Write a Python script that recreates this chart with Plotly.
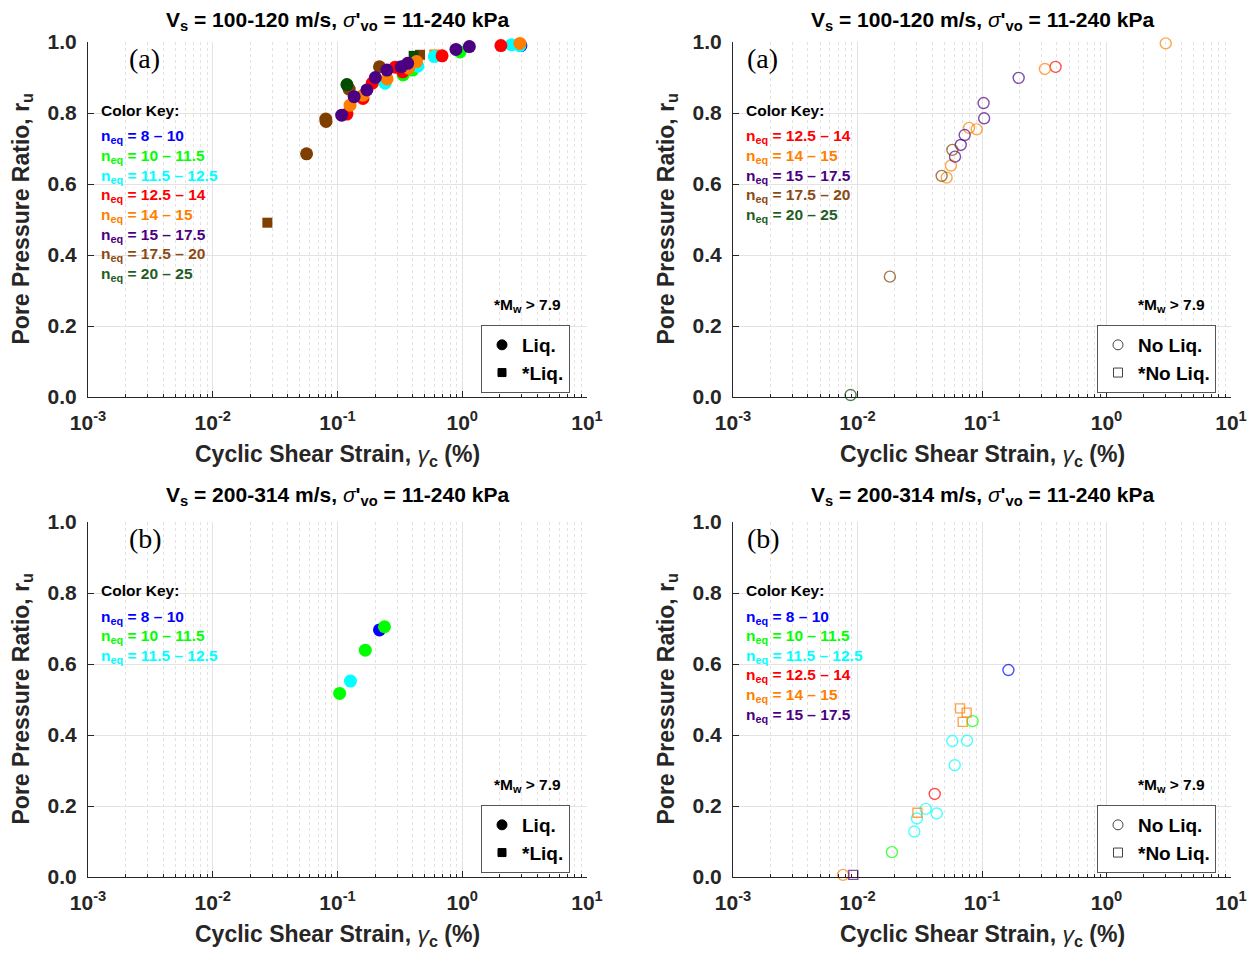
import plotly.graph_objects as go

# ---------------- colours for n_eq groups ----------------
C_BLUE = "#0000FF"
C_GREEN = "#00FF00"
C_CYAN = "#00FFFF"
C_RED = "#FF0000"
C_ORANGE = "#FF7F00"
C_PURPLE = "#4B0082"
C_BROWN = "#7F3F00"
C_DKGREEN = "#004D00"

# ---------------- data: panel (a) liquefied (top-left) ----------------
a_liq_blue_x = [2.95]
a_liq_blue_y = [0.99]
a_liq_green_x = [0.336, 0.40, 0.96]
a_liq_green_y = [0.907, 0.921, 0.972]
a_liq_cyan_x = [0.241, 0.44, 0.597, 2.48, 2.9]
a_liq_cyan_y = [0.884, 0.932, 0.959, 0.992, 0.99]
a_liq_red_x = [0.119, 0.16, 0.19, 0.29, 0.333, 0.689, 2.04]
a_liq_red_y = [0.797, 0.841, 0.884, 0.929, 0.916, 0.961, 0.99]
a_liq_orange_x = [0.126, 0.16, 0.25, 0.372, 0.43, 2.9]
a_liq_orange_y = [0.822, 0.85, 0.896, 0.926, 0.945, 0.996]
a_liq_purple_x = [0.108, 0.136, 0.172, 0.201, 0.249, 0.324, 0.365, 0.89, 1.14]
a_liq_purple_y = [0.794, 0.846, 0.865, 0.90, 0.921, 0.930, 0.940, 0.979, 0.987]
a_liq_brown_x = [0.0565, 0.0805, 0.081, 0.124, 0.217]
a_liq_brown_y = [0.685, 0.783, 0.776, 0.867, 0.930]
a_liq_dkgreen_x = [0.119]
a_liq_dkgreen_y = [0.88]
a_sliq_brown_x = [0.0274, 0.459]
a_sliq_brown_y = [0.491, 0.964]
a_sliq_dkgreen_x = [0.408]
a_sliq_dkgreen_y = [0.961]
a_sliq_orange_x = [0.597]
a_sliq_orange_y = [0.965]

# ---------------- data: panel (a) no liquefaction (top-right) ----------------
a_noliq_red_x = [0.39]
a_noliq_red_y = [0.93]
a_noliq_orange_x = [2.99, 0.32, 0.0787, 0.0906, 0.0563, 0.052]
a_noliq_orange_y = [0.996, 0.924, 0.758, 0.754, 0.652, 0.618]
a_noliq_purple_x = [0.197, 0.103, 0.104, 0.0726, 0.0675, 0.0607]
a_noliq_purple_y = [0.899, 0.828, 0.785, 0.738, 0.710, 0.677]
a_noliq_brown_x = [0.0578, 0.0474, 0.0182]
a_noliq_brown_y = [0.696, 0.623, 0.339]
a_noliq_dkgreen_x = [0.0088]
a_noliq_dkgreen_y = [0.0056]

# ---------------- data: panel (b) liquefied (bottom-left) ----------------
b_liq_blue_x = [0.217]
b_liq_blue_y = [0.696]
b_liq_green_x = [0.104, 0.167, 0.238]
b_liq_green_y = [0.517, 0.639, 0.705]
b_liq_cyan_x = [0.127]
b_liq_cyan_y = [0.552]

# ---------------- data: panel (b) no liquefaction (bottom-right) ----------------
b_noliq_blue_x = [0.163]
b_noliq_blue_y = [0.583]
b_noliq_green_x = [0.084, 0.0189]
b_noliq_green_y = [0.439, 0.07]
b_noliq_cyan_x = [0.0578, 0.0758, 0.0604, 0.0353, 0.030, 0.0433, 0.0286]
b_noliq_cyan_y = [0.383, 0.384, 0.315, 0.192, 0.165, 0.179, 0.128]
b_noliq_red_x = [0.0417]
b_noliq_red_y = [0.234]
b_noliq_orange_x = [0.00766]
b_noliq_orange_y = [0.006]
b_snoliq_orange_x = [0.0666, 0.0753, 0.070, 0.0303]
b_snoliq_orange_y = [0.475, 0.463, 0.437, 0.181]
b_snoliq_purple_x = [0.00925]
b_snoliq_purple_y = [0.006]

# ---------------- labels ----------------
x_tickvals = [0.001, 0.01, 0.1, 1, 10]
x_ticktext = ["10<sup>-3</sup>", "10<sup>-2</sup>", "10<sup>-1</sup>", "10<sup>0</sup>", "10<sup>1</sup>"]
y_tickvals = [0.0, 0.2, 0.4, 0.6, 0.8, 1.0]
y_ticktext = ["0.0", "0.2", "0.4", "0.6", "0.8", "1.0"]

key_all = [
    ("8 – 10", C_BLUE), ("10 – 11.5", C_GREEN), ("11.5 – 12.5", C_CYAN),
    ("12.5 – 14", C_RED), ("14 – 15", C_ORANGE), ("15 – 17.5", C_PURPLE),
    ("17.5 – 20", "#8B4A12"), ("20 – 25", "#1E5E1E"),
]
key_tl = key_all
key_tr = key_all[3:]
key_bl = key_all[:3]
key_br = key_all[:6]

title_top = "V<sub>s</sub> = 100-120 m/s, <i style='font-weight:normal'>σ</i>'<sub>vo</sub> = 11-240 kPa"
title_bot = "V<sub>s</sub> = 200-314 m/s, <i style='font-weight:normal'>σ</i>'<sub>vo</sub> = 11-240 kPa"
x_title = "Cyclic Shear Strain, <i style='font-weight:normal'>γ</i><sub>c</sub> (%)"
y_title = "Pore Pressure Ratio, r<sub>u</sub>"

# page body has an 8px margin: figure placed at (8, 8)
OFF = 8
W, H = 1248, 945
FONT = "Liberation Sans"
INK = "#262626"

def px(x):
    return (x - OFF) / W

def py(y):
    return 1 - (y - OFF) / H

# panel pixel boxes in screenshot coordinates (left, right, top, bottom)
panels = {
    1: (88, 587, 42, 397),
    2: (733, 1231, 42, 397),
    3: (88, 587, 522, 877),
    4: (733, 1231, 522, 877),
}

fig = go.Figure()

def add_pts(n, xs, ys, color, symbol, size, open_=False):
    ax = "" if n == 1 else str(n)
    if open_:
        marker = dict(symbol=symbol + "-open", size=size, color=color, opacity=0.7,
                      line=dict(width=1.4, color=color))
    else:
        marker = dict(symbol=symbol, size=size, color=color, line=dict(width=0))
    fig.add_trace(go.Scatter(x=xs, y=ys, mode="markers", marker=marker,
                             xaxis="x" + ax, yaxis="y" + ax, showlegend=False,
                             cliponaxis=False, hoverinfo="x+y"))

# panel 1
add_pts(1, a_liq_brown_x, a_liq_brown_y, C_BROWN, "circle", 13)
add_pts(1, a_liq_dkgreen_x, a_liq_dkgreen_y, C_DKGREEN, "circle", 13)
add_pts(1, a_sliq_brown_x, a_sliq_brown_y, C_BROWN, "square", 10)
add_pts(1, a_sliq_dkgreen_x, a_sliq_dkgreen_y, C_DKGREEN, "square", 10)
add_pts(1, a_sliq_orange_x, a_sliq_orange_y, C_ORANGE, "square", 10)
add_pts(1, a_liq_blue_x, a_liq_blue_y, C_BLUE, "circle", 13)
add_pts(1, a_liq_green_x, a_liq_green_y, C_GREEN, "circle", 13)
add_pts(1, a_liq_cyan_x, a_liq_cyan_y, C_CYAN, "circle", 13)
add_pts(1, a_liq_red_x, a_liq_red_y, C_RED, "circle", 13)
add_pts(1, a_liq_orange_x, a_liq_orange_y, C_ORANGE, "circle", 13)
add_pts(1, a_liq_purple_x, a_liq_purple_y, C_PURPLE, "circle", 13)

# panel 2
add_pts(2, a_noliq_red_x, a_noliq_red_y, C_RED, "circle", 11, True)
add_pts(2, a_noliq_orange_x, a_noliq_orange_y, C_ORANGE, "circle", 11, True)
add_pts(2, a_noliq_purple_x, a_noliq_purple_y, C_PURPLE, "circle", 11, True)
add_pts(2, a_noliq_brown_x, a_noliq_brown_y, C_BROWN, "circle", 11, True)
add_pts(2, a_noliq_dkgreen_x, a_noliq_dkgreen_y, C_DKGREEN, "circle", 11, True)

# panel 3
add_pts(3, b_liq_blue_x, b_liq_blue_y, C_BLUE, "circle", 13)
add_pts(3, b_liq_green_x, b_liq_green_y, C_GREEN, "circle", 13)
add_pts(3, b_liq_cyan_x, b_liq_cyan_y, C_CYAN, "circle", 13)

# panel 4
add_pts(4, b_noliq_blue_x, b_noliq_blue_y, C_BLUE, "circle", 11, True)
add_pts(4, b_noliq_green_x, b_noliq_green_y, C_GREEN, "circle", 11, True)
add_pts(4, b_noliq_cyan_x, b_noliq_cyan_y, C_CYAN, "circle", 11, True)
add_pts(4, b_noliq_red_x, b_noliq_red_y, C_RED, "circle", 11, True)
add_pts(4, b_noliq_orange_x, b_noliq_orange_y, C_ORANGE, "circle", 11, True)
add_pts(4, b_snoliq_orange_x, b_snoliq_orange_y, C_ORANGE, "square", 9, True)
add_pts(4, b_snoliq_purple_x, b_snoliq_purple_y, C_PURPLE, "square", 9, True)

# legends
legend_names = {1: "legend", 2: "legend2", 3: "legend3", 4: "legend4"}
for n in (1, 2, 3, 4):
    liq = n in (1, 3)
    ax = "" if n == 1 else str(n)
    names = ("Liq.", "*Liq.") if liq else ("No Liq.", "*No Liq.")
    syms = ("circle", "square") if liq else ("circle-open", "square-open")
    sizes = (10, 8) if liq else (10, 9)
    for nm, sy, sz in zip(names, syms, sizes):
        fig.add_trace(go.Scatter(x=[None], y=[None], mode="markers", name=nm,
                                 marker=dict(symbol=sy, size=sz, color="black" if liq else "#444",
                                             line=dict(width=1, color="black" if liq else "#444")),
                                 xaxis="x" + ax, yaxis="y" + ax, legend=legend_names[n],
                                 showlegend=True))

layout = dict(
    width=W, height=H, margin=dict(l=0, r=0, t=0, b=0, autoexpand=False),
    paper_bgcolor="white", plot_bgcolor="white",
    font=dict(family=FONT, color=INK),
    annotations=[], shapes=[],
)

minor_vals = []
for dec in [0.001, 0.01, 0.1, 1]:
    for k in range(2, 10):
        minor_vals.append(dec * k)

for n, (l, r, t, b) in panels.items():
    ax = "" if n == 1 else str(n)
    layout["xaxis" + ax] = dict(
        type="log", range=[-3, 1], domain=[px(l), px(r)], anchor="y" + ax,
        automargin=False,
        tickmode="array", tickvals=x_tickvals, ticktext=x_ticktext,
        tickfont=dict(family=FONT, size=21, weight="bold", color=INK),
        ticks="inside", ticklen=6, tickcolor=INK, ticklabelstandoff=7,
        showgrid=True, gridcolor="#E3E3E3", gridwidth=1,
        minor=dict(tickmode="array", tickvals=minor_vals, showgrid=True,
                   gridcolor="#E2E2E2", griddash="dot", ticks="inside", ticklen=3,
                   tickcolor=INK),
        showline=True, linecolor=INK, linewidth=1, zeroline=False,
    )
    layout["yaxis" + ax] = dict(
        range=[0, 1], domain=[py(b), py(t)], anchor="x" + ax,
        automargin=False,
        tickmode="array", tickvals=y_tickvals, ticktext=y_ticktext,
        tickfont=dict(family=FONT, size=21, weight="bold", color=INK),
        ticks="inside", ticklen=6, tickcolor=INK, ticklabelstandoff=6,
        showgrid=True, gridcolor="#E3E3E3", gridwidth=1,
        showline=True, linecolor=INK, linewidth=1, zeroline=False,
    )

    # axis titles
    layout["annotations"].append(dict(
        text=x_title, xref="paper", yref="paper",
        x=px((l + r) / 2), y=py(b + 58), xanchor="center", yanchor="middle", showarrow=False,
        font=dict(family=FONT, size=23, weight="bold", color=INK)))
    layout["annotations"].append(dict(
        text=y_title, xref="paper", yref="paper", textangle=-90,
        x=px(l - 66), y=py((t + b) / 2), xanchor="center", yanchor="middle", showarrow=False,
        font=dict(family=FONT, size=23, weight="bold", color=INK)))
    # title
    layout["annotations"].append(dict(
        text=title_top if n in (1, 2) else title_bot, xref="paper", yref="paper",
        x=px((l + r) / 2), y=py(t - (21 if n in (1, 2) else 26)), xanchor="center",
        yanchor="middle", showarrow=False,
        font=dict(family=FONT, size=21, weight="bold", color="black")))
    # panel letter
    layout["annotations"].append(dict(
        text="(a)" if n in (1, 2) else "(b)", xref="paper", yref="paper",
        x=px(l + (39 if n in (1, 3) else 12)), y=py(t + 16), xanchor="left", yanchor="middle",
        showarrow=False,
        font=dict(family="Liberation Serif", size=28, color="black")))
    # color key
    key = {1: key_tl, 2: key_tr, 3: key_bl, 4: key_br}[n]
    layout["annotations"].append(dict(
        text="Color Key:", xref="paper", yref="paper",
        x=px(l + 11), y=py(t + 68), xanchor="left", yanchor="middle", showarrow=False,
        font=dict(family=FONT, size=15.5, weight="bold", color="black")))
    for i, (rng, col) in enumerate(key):
        layout["annotations"].append(dict(
            text="n<sub>eq</sub> = " + rng, xref="paper", yref="paper",
            x=px(l + 11), y=py(t + 95 + i * 19.6), xanchor="left", yanchor="middle",
            showarrow=False,
            font=dict(family=FONT, size=15.5, weight="bold", color=col)))
    # Mw note
    layout["annotations"].append(dict(
        text="*M<sub>w</sub> > 7.9", xref="paper", yref="paper",
        x=px(r - 24), y=py(t + 263), xanchor="right", yanchor="middle", showarrow=False,
        font=dict(family=FONT, size=15.5, weight="bold", color="black")))
    # legend placement
    lg_left = l + 393 if n in (1, 3) else l + 364
    layout[legend_names[n]] = dict(
        x=px(lg_left), y=py(t + 283), xanchor="left", yanchor="top",
        bgcolor="white", bordercolor="#555", borderwidth=1,
        font=dict(family=FONT, size=19, weight="bold", color="black"),
        itemwidth=30, tracegroupgap=0,
    )

fig.update_layout(**layout)
fig.write_html("out.html")
